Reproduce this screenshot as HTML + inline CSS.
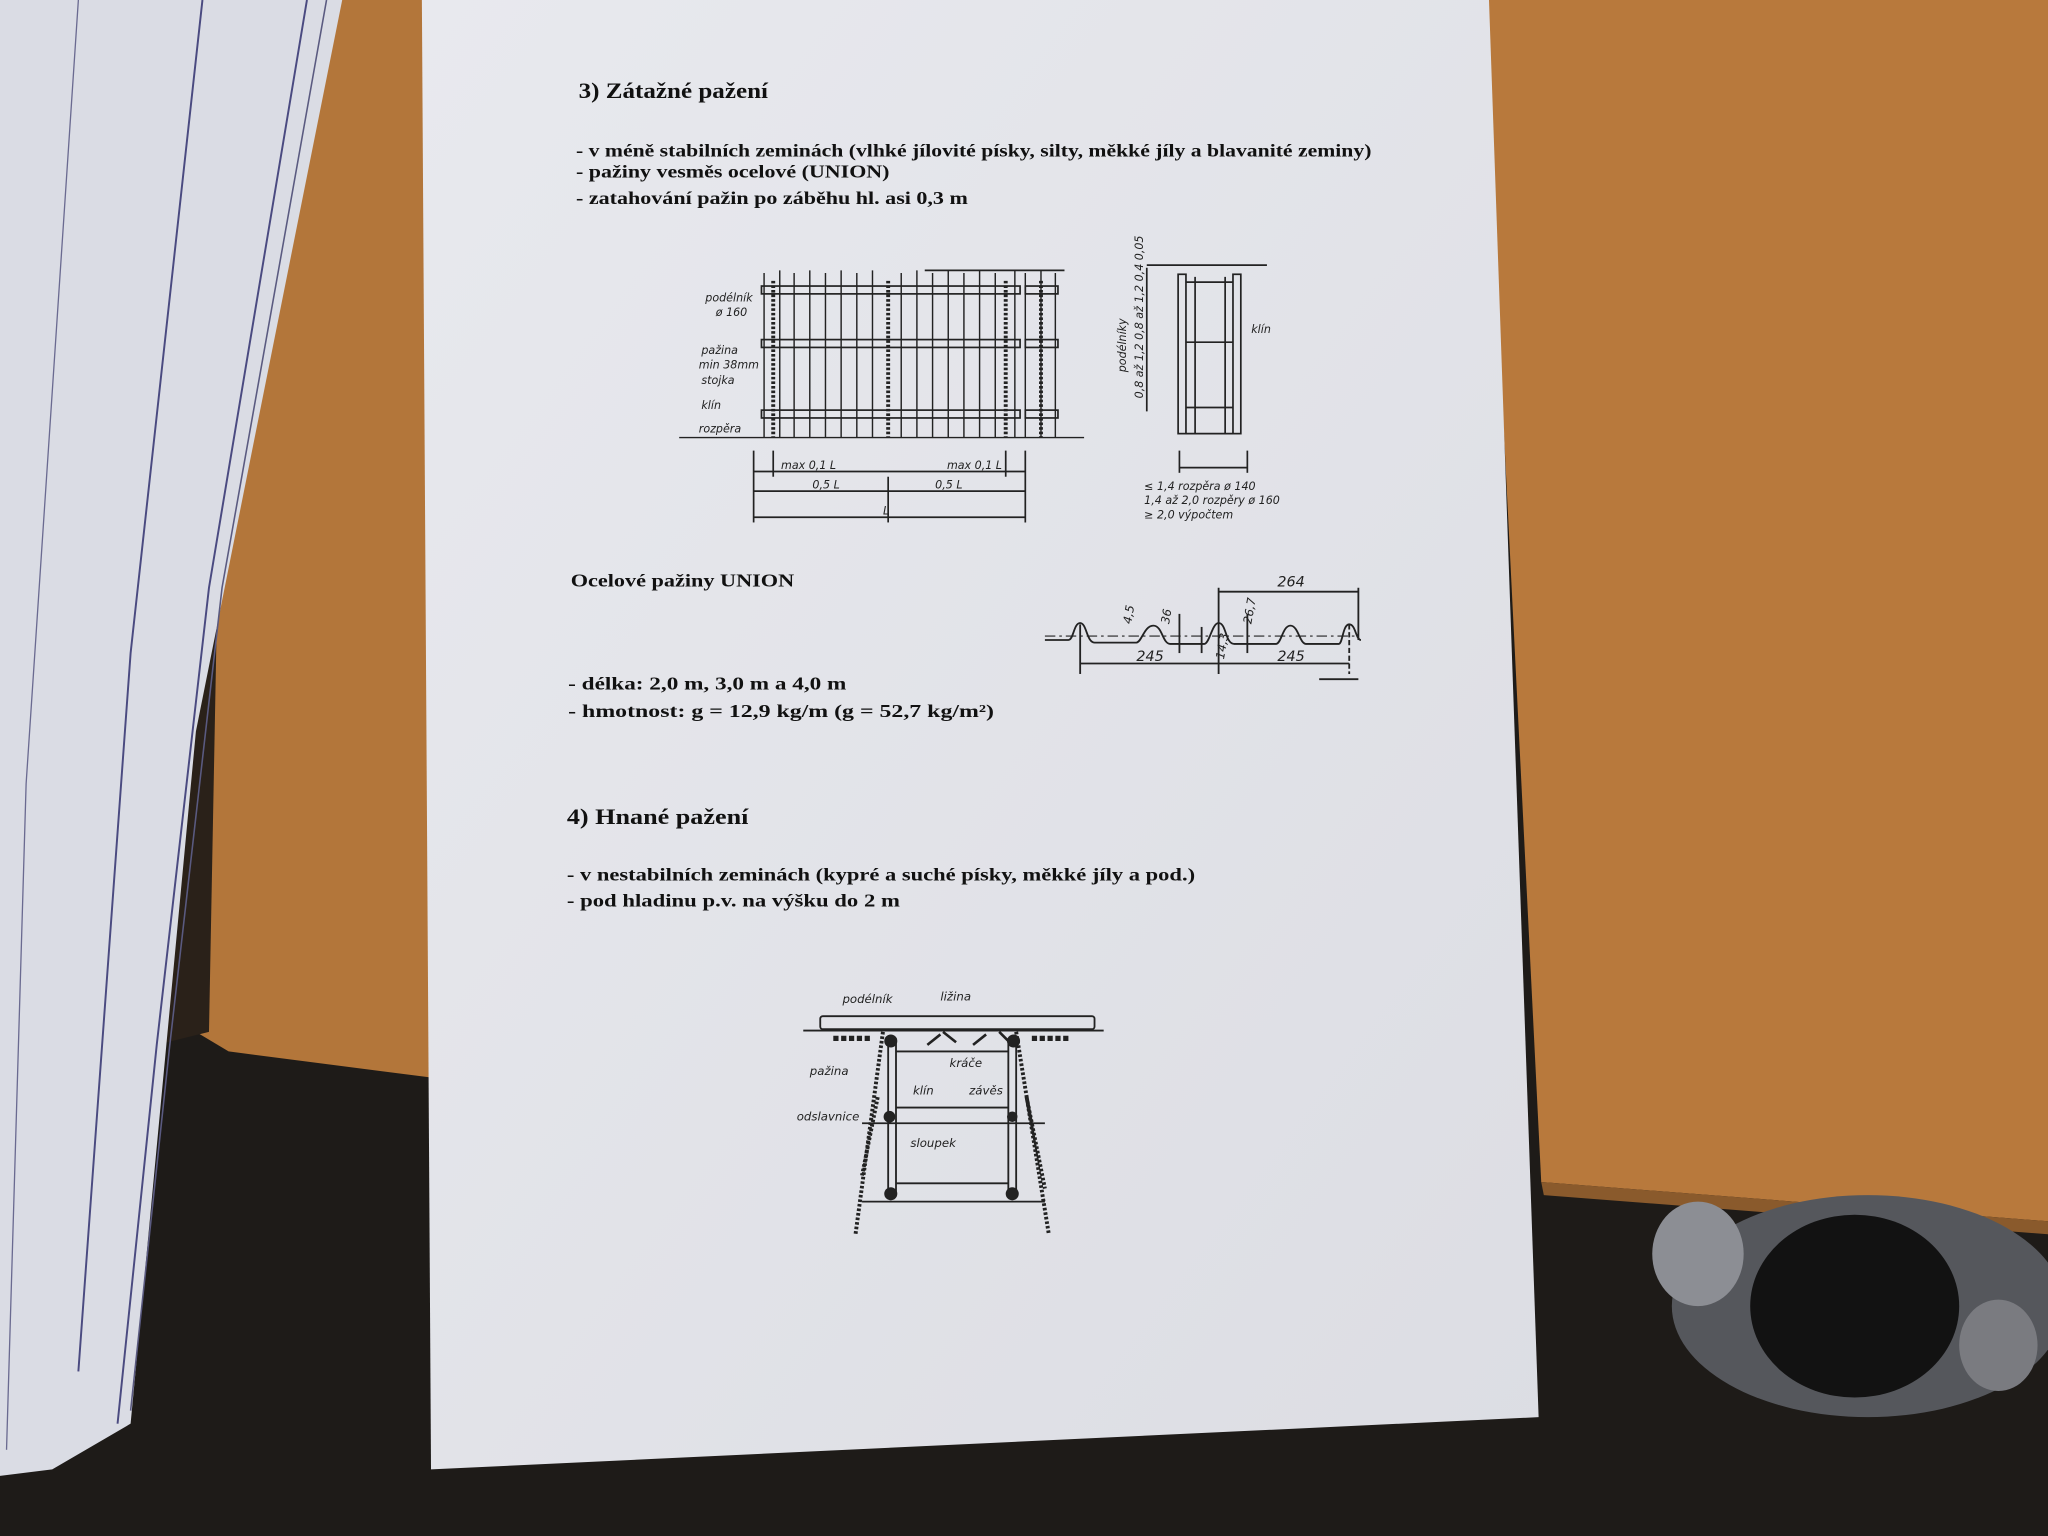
<!DOCTYPE html>
<html><head><meta charset="utf-8"><style>html,body{margin:0;padding:0;background:#1e1b18;overflow:hidden}svg{display:block}</style></head><body>
<svg width="2048" height="1536" viewBox="0 0 1568 1176" preserveAspectRatio="none" xmlns="http://www.w3.org/2000/svg">
<defs>
<linearGradient id="pg" x1="0" y1="0" x2="1" y2="1"><stop offset="0" stop-color="#e8e9ee"/><stop offset="1" stop-color="#dcdde3"/></linearGradient>
</defs>
<rect width="1568" height="1176" fill="#1e1b18"/>
<polygon points="150,0 330,0 330,825 175,805 150,790" fill="#b3763a"/>
<polygon points="120,0 175,0 160,790 120,800" fill="#2a2119"/>
<polygon points="1135,0 1568,0 1568,935 1180,905" fill="#b8793c"/>
<polygon points="1180,905 1568,935 1568,945 1182,915" fill="#8a5a2c"/>
<ellipse cx="1430" cy="1000" rx="150" ry="85" fill="#55575c"/>
<ellipse cx="1300" cy="960" rx="35" ry="40" fill="#8c8e94"/>
<ellipse cx="1420" cy="1000" rx="80" ry="70" fill="#121212"/>
<ellipse cx="1530" cy="1030" rx="30" ry="35" fill="#7a7b80"/>
<polygon points="0,0 262,0 150,560 100,1090 40,1125 0,1130" fill="#dadce4"/>
<polyline points="155,0 100,500 60,1050" stroke="#4a4a80" stroke-width="1.5" fill="none"/>
<polyline points="235,0 160,450 120,800 90,1090" stroke="#4a4a80" stroke-width="1.5" fill="none"/>
<polyline points="250,0 170,450 130,800 100,1080" stroke="#5a5a80" stroke-width="1.2" fill="none"/>
<polyline points="60,0 20,600 5,1110" stroke="#6a6a90" stroke-width="1" fill="none"/>
<polygon points="323,0 1140,0 1178,1085 330,1125" fill="url(#pg)"/>
<g font-family="Liberation Serif, serif" font-weight="bold" fill="#111">
<text x="443" y="75" font-size="17" textLength="145" lengthAdjust="spacingAndGlyphs">3) Zátažné pažení</text>
<text x="441" y="120" font-size="14" textLength="609" lengthAdjust="spacingAndGlyphs">- v méně stabilních zeminách (vlhké jílovité písky, silty, měkké jíly a blavanité zeminy)</text>
<text x="441" y="136" font-size="14" textLength="240" lengthAdjust="spacingAndGlyphs">- pažiny vesměs ocelové (UNION)</text>
<text x="441" y="156" font-size="14" textLength="300" lengthAdjust="spacingAndGlyphs">- zatahování pažin po záběhu hl. asi 0,3 m</text>
<text x="437" y="449" font-size="14" textLength="171" lengthAdjust="spacingAndGlyphs">Ocelové pažiny UNION</text>
<text x="435" y="528" font-size="14" textLength="213" lengthAdjust="spacingAndGlyphs">- délka:  2,0 m, 3,0 m a 4,0 m</text>
<text x="435" y="549" font-size="14" textLength="326" lengthAdjust="spacingAndGlyphs">- hmotnost: g = 12,9 kg/m     (g = 52,7 kg/m²)</text>
<text x="434" y="631" font-size="17" textLength="139" lengthAdjust="spacingAndGlyphs">4) Hnané pažení</text>
<text x="434" y="674" font-size="14" textLength="481" lengthAdjust="spacingAndGlyphs">- v nestabilních zeminách (kypré a suché písky, měkké jíly a pod.)</text>
<text x="434" y="694" font-size="14" textLength="255" lengthAdjust="spacingAndGlyphs">- pod hladinu p.v. na výšku do 2 m</text>
</g>
<g stroke="#222" fill="none" stroke-width="1.3">
<line x1="708" y1="207" x2="815" y2="207"/>
<g stroke-width="1.1">
<path d="M585 335 V209 M597 335 V207 M608 335 V209 M620 335 V207 M632 335 V209 M644 335 V207 M656 335 V209 M668 335 V207 M690 335 V209 M702 335 V207 M714 335 V209 M726 335 V207 M738 335 V209 M750 335 V207 M762 335 V209 M777 335 V207 M785 335 V209 M797 335 V207 M808 335 V209"/>
</g>
<rect x="583" y="219" width="198" height="6"/><rect x="785" y="219" width="25" height="6"/>
<rect x="583" y="260" width="198" height="6"/><rect x="785" y="260" width="25" height="6"/>
<rect x="583" y="314" width="198" height="6"/><rect x="785" y="314" width="25" height="6"/>
<g stroke-width="3" stroke-dasharray="2,1.5"><line x1="592" y1="215" x2="592" y2="335"/><line x1="680" y1="215" x2="680" y2="335"/><line x1="770" y1="215" x2="770" y2="335"/><line x1="797" y1="215" x2="797" y2="335"/></g>
<line x1="520" y1="335" x2="830" y2="335" stroke-width="1"/>
<line x1="577" y1="345" x2="577" y2="400"/><line x1="785" y1="345" x2="785" y2="400"/>
<line x1="592" y1="345" x2="592" y2="365"/><line x1="770" y1="345" x2="770" y2="365"/><line x1="680" y1="365" x2="680" y2="400"/>
<line x1="577" y1="361" x2="785" y2="361"/><line x1="577" y1="376" x2="785" y2="376"/><line x1="577" y1="396" x2="785" y2="396"/>
</g>
<g font-family="DejaVu Sans, sans-serif" font-style="italic" font-size="8.5" fill="#222">
<text x="540" y="231">podélník</text><text x="548" y="242">ø 160</text>
<text x="537" y="271">pažina</text><text x="535" y="282">min 38mm</text><text x="537" y="294">stojka</text>
<text x="537" y="313">klín</text><text x="535" y="331">rozpěra</text>
<text x="598" y="359">max 0,1 L</text><text x="725" y="359">max 0,1 L</text>
<text x="622" y="374">0,5 L</text><text x="716" y="374">0,5 L</text><text x="676" y="394">L</text>
</g>
<g stroke="#222" fill="none" stroke-width="1.3">
<line x1="878" y1="203" x2="970" y2="203"/>
<rect x="902" y="210" width="6" height="122"/><rect x="944" y="210" width="6" height="122"/>
<line x1="908" y1="216" x2="944" y2="216"/><line x1="908" y1="262" x2="944" y2="262"/><line x1="908" y1="312" x2="944" y2="312"/><line x1="908" y1="332" x2="944" y2="332"/>
<line x1="915" y1="212" x2="915" y2="332"/><line x1="938" y1="212" x2="938" y2="332"/>
<line x1="878" y1="205" x2="878" y2="315"/>
<line x1="903" y1="345" x2="903" y2="362"/><line x1="955" y1="345" x2="955" y2="362"/><line x1="903" y1="358" x2="955" y2="358"/>
</g>
<g font-family="DejaVu Sans, sans-serif" font-style="italic" font-size="8.5" fill="#222">
<text transform="translate(862,285) rotate(-90)">podélníky</text>
<text transform="translate(875,305) rotate(-90)">0,8 až 1,2   0,8 až 1,2   0,4  0,05</text>
<text x="958" y="255">klín</text>
<text x="876" y="375">≤ 1,4 rozpěra ø 140</text><text x="876" y="386">1,4 až 2,0 rozpěry ø 160</text><text x="876" y="397">≥ 2,0 výpočtem</text>
</g>
<g stroke="#222" fill="none" stroke-width="1.4">
<path d="M800 490 H818 C822 490 822 477 827 477 C832 477 832 492 838 492 H870 C874 492 876 479 883 479 C890 479 890 493 896 493 H922 C926 493 928 477 933 477 C939 477 938 493 945 493 H977 C981 493 982 479 988 479 C994 479 995 493 1000 493 H1025 C1028 493 1028 478 1033 478 C1038 478 1038 490 1042 490"/>
<line x1="800" y1="487" x2="1040" y2="487" stroke-dasharray="8,3,2,3" stroke-width="0.9"/>
<line x1="827" y1="478" x2="827" y2="516"/><line x1="933" y1="450" x2="933" y2="516"/><line x1="1033" y1="478" x2="1033" y2="516" stroke-dasharray="4,2"/>
<line x1="1040" y1="450" x2="1040" y2="490"/>
<line x1="933" y1="453" x2="1040" y2="453"/><line x1="827" y1="508" x2="1033" y2="508"/>
<line x1="903" y1="470" x2="903" y2="500"/><line x1="920" y1="480" x2="920" y2="500"/><line x1="955" y1="470" x2="955" y2="500"/>
<line x1="1010" y1="520" x2="1040" y2="520"/>
</g>
<g font-family="DejaVu Sans, sans-serif" font-style="italic" font-size="11" fill="#222">
<text x="978" y="449">264</text><text x="870" y="506">245</text><text x="978" y="506">245</text>
<text transform="translate(866,478) rotate(-80)" font-size="9">4,5</text>
<text transform="translate(895,478) rotate(-80)" font-size="9">36</text>
<text transform="translate(958,478) rotate(-80)" font-size="9">26,7</text>
<text transform="translate(937,505) rotate(-80)" font-size="9">14,3</text>
</g>
<g stroke="#222" fill="none" stroke-width="1.4">
<rect x="628" y="778" width="210" height="10" rx="2"/>
<line x1="615" y1="789" x2="845" y2="789"/>
<path d="M638 795 h30 M790 795 h30" stroke-width="4" stroke-dasharray="4,2"/>
<g stroke-width="3" stroke-dasharray="2,1.5">
<line x1="676" y1="790" x2="655" y2="945"/><line x1="672" y1="840" x2="660" y2="900"/>
<line x1="778" y1="790" x2="803" y2="945"/><line x1="786" y1="840" x2="800" y2="910"/>
</g>
<line x1="680" y1="795" x2="680" y2="915"/><line x1="686" y1="795" x2="686" y2="915"/>
<line x1="772" y1="795" x2="772" y2="915"/><line x1="778" y1="795" x2="778" y2="915"/>
<line x1="686" y1="805" x2="772" y2="805"/><line x1="686" y1="848" x2="772" y2="848"/><line x1="660" y1="860" x2="800" y2="860"/>
<line x1="686" y1="906" x2="772" y2="906"/><line x1="660" y1="920" x2="800" y2="920"/>
<path d="M710 800 l10 -8 M722 790 l10 8 M745 800 l10 -8 M765 790 l8 8" stroke-width="2"/>
</g>
<g fill="#222"><circle cx="682" cy="797" r="5"/><circle cx="776" cy="797" r="5"/><circle cx="681" cy="855" r="4.5"/><circle cx="775" cy="855" r="4"/><circle cx="682" cy="914" r="5"/><circle cx="775" cy="914" r="5"/></g>
<g font-family="DejaVu Sans, sans-serif" font-style="italic" font-size="9" fill="#222">
<text x="645" y="768">podélník</text><text x="720" y="766">ližina</text><text x="727" y="817">kráče</text>
<text x="620" y="823">pažina</text><text x="699" y="838">klín</text><text x="742" y="838">závěs</text>
<text x="610" y="858">odslavnice</text><text x="697" y="878">sloupek</text>
</g>
</svg>
</body></html>
